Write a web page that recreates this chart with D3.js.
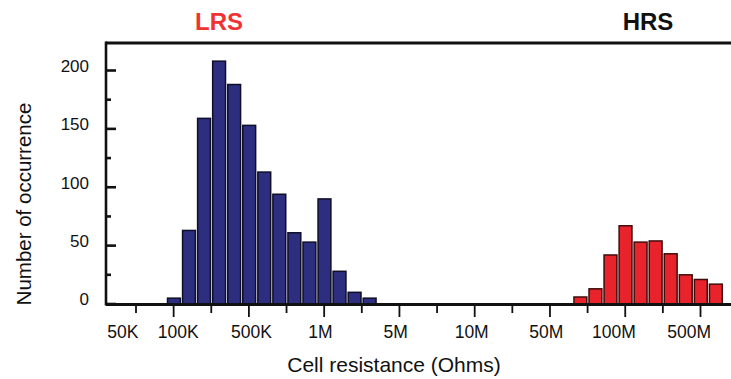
<!DOCTYPE html>
<html>
<head>
<meta charset="utf-8">
<script src="https://cdn.jsdelivr.net/npm/d3@7/dist/d3.min.js"></script>
<style>
  html, body { margin: 0; padding: 0; background: #fff; }
  svg { display: block; font-family: "Liberation Sans", Arial, sans-serif; }
</style>
</head>
<body>
<svg id="chart" width="731" height="379"></svg>
<script>
// ---- data ----
const lrsCounts = [5, 63, 159, 208, 188, 153, 113, 94, 61, 53, 90, 28, 10, 5];
const hrsCounts = [6, 13, 42, 67, 53, 54, 43, 25, 21, 17];
const lrsFirstBin = 0;
const hrsFirstBin = 27;
const xTickLabels = ["50K", "100K", "500K", "1M", "5M", "10M", "50M", "100M", "500M"];
const xLabelAt   = [-0.35, 1.12, 3.07, 4.9, 6.9, 8.92, 10.9, 12.7, 14.7];
const yTickValues = [0, 25, 50, 75, 100, 125, 150, 175, 200];
const yTickLabels = [0, 50, 100, 150, 200];
const groupLabels = ["LRS", "HRS"];

// ---- layout ----
const svg = d3.select("#chart");
const axisLeftX = 106, baseY = 304, frameTopY = 43, rightEdge = 731;
const binOrigin = 0.824, binWidth = 0.4;

const x = d3.scaleLinear().domain([0, 15]).range([136, 700.5]);
const y = d3.scaleLinear().domain([0, 200]).range([baseY, 70.5]);

function bins(counts, first) {
  return counts.map((v, i) => ({ bin: first + i, v }));
}

function drawBars(data, fill, stroke) {
  svg.append("g").selectAll("rect").data(data).join("rect")
    .attr("x", d => x(binOrigin + d.bin * binWidth) + 0.5)
    .attr("width", d => x(binOrigin + (d.bin + 1) * binWidth) - x(binOrigin + d.bin * binWidth) - 2.2)
    .attr("y", d => y(d.v))
    .attr("height", d => y(0) - y(d.v))
    .attr("fill", fill)
    .attr("stroke", stroke)
    .attr("stroke-width", 1.5);
}
drawBars(bins(lrsCounts, lrsFirstBin), "#2d2e80", "#0e0e26");
drawBars(bins(hrsCounts, hrsFirstBin), "#e8232b", "#400c0c");

// ---- frame / axes ----
svg.append("line").attr("x1", axisLeftX).attr("x2", rightEdge)
  .attr("y1", frameTopY).attr("y2", frameTopY)
  .attr("stroke", "#111").attr("stroke-width", 3);
svg.append("line").attr("x1", axisLeftX).attr("x2", axisLeftX)
  .attr("y1", frameTopY - 1.5).attr("y2", baseY + 1.5)
  .attr("stroke", "#111").attr("stroke-width", 2.6);
svg.append("line").attr("x1", axisLeftX).attr("x2", rightEdge)
  .attr("y1", baseY + 0.5).attr("y2", baseY + 0.5)
  .attr("stroke", "#111").attr("stroke-width", 3);

// y ticks (inward)
svg.append("g").selectAll("line").data(yTickValues).join("line")
  .attr("x1", axisLeftX)
  .attr("x2", d => axisLeftX + (d % 50 === 0 ? 10 : 5))
  .attr("y1", d => y(d)).attr("y2", d => y(d))
  .attr("stroke", "#111").attr("stroke-width", 2.6);
svg.append("g").selectAll("text").data(yTickLabels).join("text")
  .attr("x", 89)
  .attr("y", d => y(d) - 4.5)
  .attr("dy", "0.35em")
  .attr("text-anchor", "end")
  .attr("font-size", 17)
  .attr("fill", "#111")
  .text(d => d);

// x ticks (outward)
svg.append("g").selectAll("line").data(d3.range(0, 16)).join("line")
  .attr("x1", d => x(d)).attr("x2", d => x(d))
  .attr("y1", baseY + 1).attr("y2", d => baseY + (d % 2 === 1 ? 13 : 9))
  .attr("stroke", "#111").attr("stroke-width", 1.8);
svg.append("g").selectAll("text").data(xTickLabels).join("text")
  .attr("x", (d, i) => x(xLabelAt[i]))
  .attr("y", 338)
  .attr("text-anchor", "middle")
  .attr("font-size", 17.5)
  .attr("fill", "#111")
  .text(d => d);

// axis titles
svg.append("text")
  .attr("x", 394).attr("y", 372)
  .attr("text-anchor", "middle")
  .attr("font-size", 21)
  .attr("fill", "#111")
  .text("Cell resistance (Ohms)");
svg.append("text")
  .attr("transform", "translate(31,204) rotate(-90)")
  .attr("text-anchor", "middle")
  .attr("font-size", 20.5)
  .attr("fill", "#111")
  .text("Number of occurrence");

// group labels
svg.append("text")
  .attr("x", 219).attr("y", 30)
  .attr("text-anchor", "middle")
  .attr("font-size", 24)
  .attr("font-weight", "bold")
  .attr("fill", "#f03232")
  .text(groupLabels[0]);
svg.append("text")
  .attr("x", 648).attr("y", 30)
  .attr("text-anchor", "middle")
  .attr("font-size", 24)
  .attr("font-weight", "bold")
  .attr("fill", "#111")
  .text(groupLabels[1]);
</script>
</body>
</html>
